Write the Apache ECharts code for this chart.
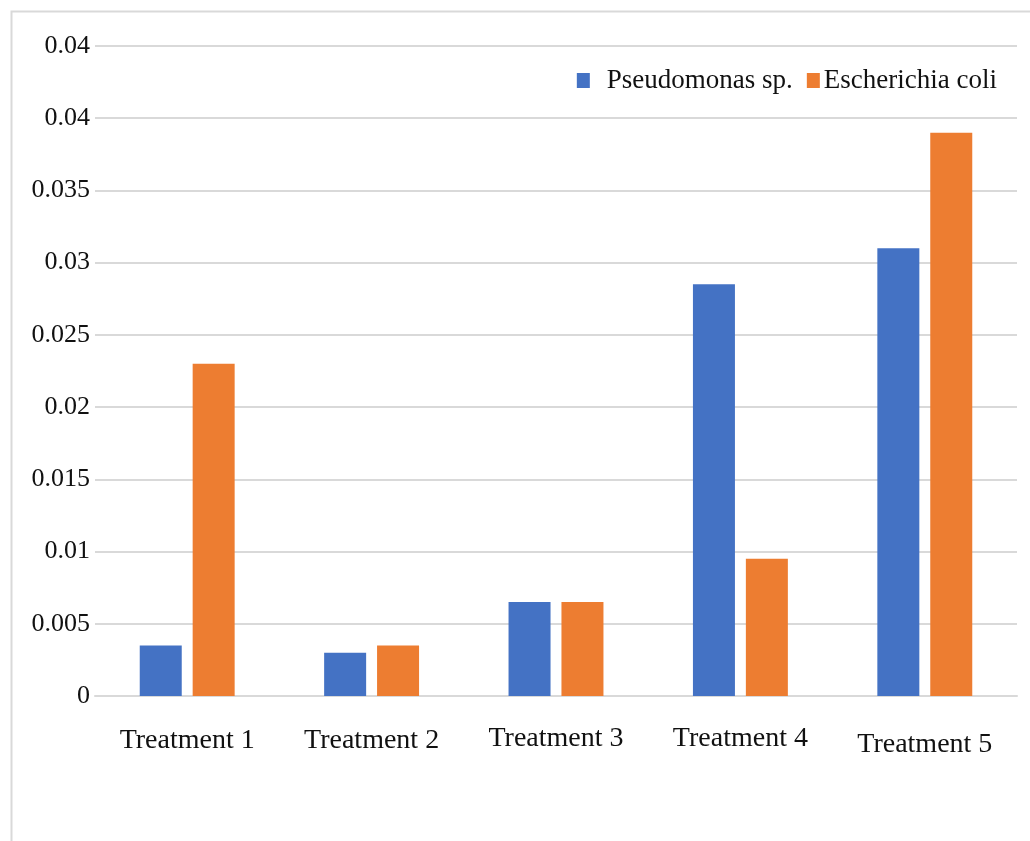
<!DOCTYPE html>
<html>
<head>
<meta charset="utf-8">
<script src="https://cdn.jsdelivr.net/npm/echarts@6/dist/echarts.min.js"></script>
<style>
html,body{margin:0;padding:0;background:#fff;}
#c{width:1030px;height:841px;}
</style>
</head>
<body>
<div id="c"></div>
<script>
const categories = ['Treatment 1','Treatment 2','Treatment 3','Treatment 4','Treatment 5'];
const pseudomonas = [0.0035, 0.003, 0.0065, 0.0285, 0.031];
const ecoli = [0.023, 0.0035, 0.0065, 0.0095, 0.039];
const yTickLabels = ['0','0.005','0.01','0.015','0.02','0.025','0.03','0.035','0.04','0.04'];
const labelOffsets = [0, 0, -2, -2, 4];

const FONT = '"Liberation Serif", "DejaVu Serif", serif';
const chart = echarts.init(document.getElementById('c'));
chart.setOption({
  animation: false,
  backgroundColor: '#ffffff',
  graphic: [{
    type: 'rect', left: 9, top: 9,
    shape: { width: 1040, height: 850 },
    style: { fill: 'none', stroke: '#d9d9d9', lineWidth: 2 },
    silent: true, z: -1
  }],
  legend: {
    top: 62, right: 28,
    itemWidth: 13, itemHeight: 15, itemGap: 14,
    icon: 'rect',
    textStyle: { fontFamily: FONT, fontSize: 27, color: '#111' },
    data: [
      { name: 'Pseudomonas sp.', textStyle: { padding: [0, 0, 0, 12] } },
      { name: 'Escherichia coli', textStyle: { padding: [0, 0, 0, -1] } }
    ]
  },
  grid: { left: 95, right: 13, top: 46, bottom: 145, containLabel: false },
  xAxis: {
    type: 'category',
    data: categories.map((c, i) => ({ value: c, textStyle: { padding: [labelOffsets[i], 0, 0, 0] } })),
    axisLine: { show: true, lineStyle: { color: '#d9d9d9', width: 2 } },
    axisTick: { show: false },
    axisLabel: { fontFamily: FONT, fontSize: 28, color: '#111', margin: 31 }
  },
  yAxis: {
    type: 'value', min: 0, max: 0.045, interval: 0.005,
    axisLine: { show: false }, axisTick: { show: false },
    splitLine: { lineStyle: { color: '#d9d9d9', width: 2 } },
    axisLabel: {
      fontFamily: FONT, fontSize: 26, color: '#111', margin: 5,
      formatter: v => yTickLabels[Math.round(v / 0.005)]
    }
  },
  series: [
    { name: 'Pseudomonas sp.', type: 'bar', data: pseudomonas, barWidth: 42, barGap: '26%', itemStyle: { color: '#4472C4' } },
    { name: 'Escherichia coli', type: 'bar', data: ecoli, barWidth: 42, itemStyle: { color: '#ED7D31' } }
  ]
});
</script>
</body>
</html>
